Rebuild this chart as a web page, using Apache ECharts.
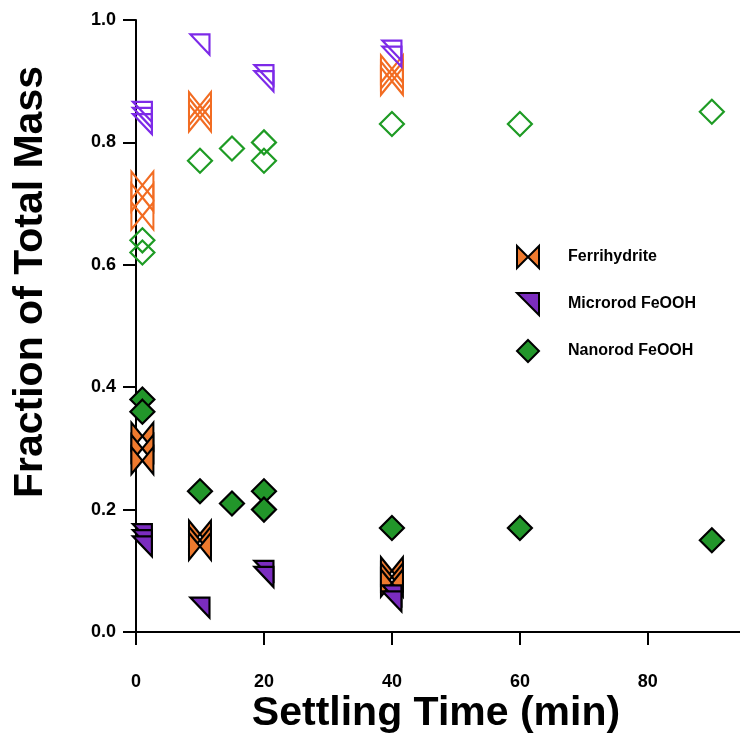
<!DOCTYPE html>
<html>
<head>
<meta charset="utf-8">
<script src="https://cdn.jsdelivr.net/npm/echarts@6/dist/echarts.min.js"></script>
<style>
html,body{margin:0;padding:0;background:#fff;}
#chart{width:740px;height:736px;}
</style>
</head>
<body>
<div id="chart"></div>
<script>
// ---- Data ----
const seriesNames = ['Ferrihydrite', 'Microrod FeOOH', 'Nanorod FeOOH'];
const xTicks = [0, 20, 40, 60, 80];
const yTicks = [0.0, 0.2, 0.4, 0.6, 0.8, 1.0];

const ferriTime   = [1, 1, 1, 10, 10, 10, 40, 40, 40];
const ferriFilled = [0.32, 0.30, 0.28, 0.16, 0.15, 0.14, 0.10, 0.09, 0.08];
const ferriOpen   = [0.73, 0.71, 0.68, 0.86, 0.85, 0.84, 0.92, 0.91, 0.90];

const microTime   = [1, 1, 1, 10, 20, 20, 40, 40];
const microFilled = [0.16, 0.15, 0.14, 0.04, 0.10, 0.09, 0.06, 0.05];
const microOpen   = [0.85, 0.84, 0.83, 0.96, 0.91, 0.90, 0.95, 0.94];

const nanoTime    = [1, 1, 10, 15, 20, 20, 40, 60, 90];
const nanoFilled  = [0.38, 0.36, 0.23, 0.21, 0.23, 0.20, 0.17, 0.17, 0.15];
const nanoOpen    = [0.64, 0.62, 0.77, 0.79, 0.80, 0.77, 0.83, 0.83, 0.85];

// ---- Styling ----
const bowtie = 'path://M0,0 L0,10 L5,5 Z M10,0 L10,10 L5,5 Z';
const rtri = 'path://M0,0 L10,0 L10,10 Z';
const diamondPath = 'path://M5,0 L10,5 L5,10 L0,5 Z';
const orange = '#ef7a2e', orangeLine = '#f26c22';
const purple = '#7b2cbf', purpleLine = '#7d2ae8';
const green = '#22962a', greenLine = '#1e9b24';
const FONT = 'Liberation Sans';

function pairs(xs, ys) { return xs.map((x, i) => [x, ys[i]]); }

function filledSeries(name, xs, ys, symbol, size, color) {
  return {
    name: name, type: 'scatter', symbol: symbol, symbolSize: size,
    data: pairs(xs, ys),
    itemStyle: { color: color, borderColor: '#000', borderWidth: 2.2, opacity: 1 },
    emphasis: { disabled: true }
  };
}
function openSeries(name, xs, ys, symbol, size, color) {
  return {
    name: name, type: 'scatter', symbol: symbol, symbolSize: size,
    data: pairs(xs, ys),
    itemStyle: { color: 'rgba(0,0,0,0)', borderColor: color, borderWidth: 2.2, opacity: 1 },
    emphasis: { disabled: true }
  };
}

const chart = echarts.init(document.getElementById('chart'), null, { renderer: 'canvas' });
chart.setOption({
  animation: false,
  backgroundColor: '#fff',
  grid: { left: 136, right: 0, top: 20, bottom: 104, containLabel: false },
  xAxis: {
    type: 'value', min: 0, max: 94.4,
    axisLine: { show: true, onZero: false, lineStyle: { color: '#000', width: 2 } },
    axisTick: { show: true, length: 13, lineStyle: { color: '#000', width: 2 }, customValues: xTicks },
    axisLabel: { show: true, margin: 41, customValues: xTicks, color: '#000', fontFamily: FONT, fontWeight: 'bold', fontSize: 18 },
    splitLine: { show: false }
  },
  yAxis: {
    type: 'value', min: 0, max: 1, interval: 0.2,
    axisLine: { show: true, onZero: false, lineStyle: { color: '#000', width: 2 } },
    axisTick: { show: true, length: 13, lineStyle: { color: '#000', width: 2 }, customValues: yTicks },
    axisLabel: { show: true, margin: 20, customValues: yTicks, formatter: v => v.toFixed(1), color: '#000', fontFamily: FONT, fontWeight: 'bold', fontSize: 18 },
    splitLine: { show: false }
  },
  legend: {
    data: [
      { name: seriesNames[0] },
      { name: seriesNames[1] },
      { name: seriesNames[2], icon: diamondPath }
    ],
    orient: 'vertical', left: 511, top: 240,
    itemWidth: 22, itemHeight: 27, itemGap: 23,
    textStyle: { color: '#000', fontFamily: FONT, fontWeight: 'bold', fontSize: 16, padding: [0, 0, 0, 24] },
    selectedMode: false
  },
  graphic: [
    { type: 'text', x: 436, y: 714, style: { text: 'Settling Time (min)', x: 0, y: 0, align: 'center', verticalAlign: 'middle', font: 'bold 41px "Liberation Sans"', fill: '#000' } },
    { type: 'text', x: 31, y: 282, rotation: Math.PI / 2, style: { text: 'Fraction of Total Mass', x: 0, y: 0, align: 'center', verticalAlign: 'middle', font: 'bold 41px "Liberation Sans"', fill: '#000' } }
  ],
  series: [
    openSeries('Ferrihydrite open', ferriTime, ferriOpen, bowtie, [22, 27], orangeLine),
    filledSeries('Ferrihydrite', ferriTime, ferriFilled, bowtie, [22, 27], orange),
    openSeries('Microrod FeOOH open', microTime, microOpen, rtri, [19, 20], purpleLine),
    filledSeries('Microrod FeOOH', microTime, microFilled, rtri, [19, 20], purple),
    openSeries('Nanorod FeOOH open', nanoTime, nanoOpen, 'diamond', [24, 24], greenLine),
    filledSeries('Nanorod FeOOH', nanoTime, nanoFilled, 'diamond', [24, 24], green)
  ]
});
</script>
</body>
</html>
